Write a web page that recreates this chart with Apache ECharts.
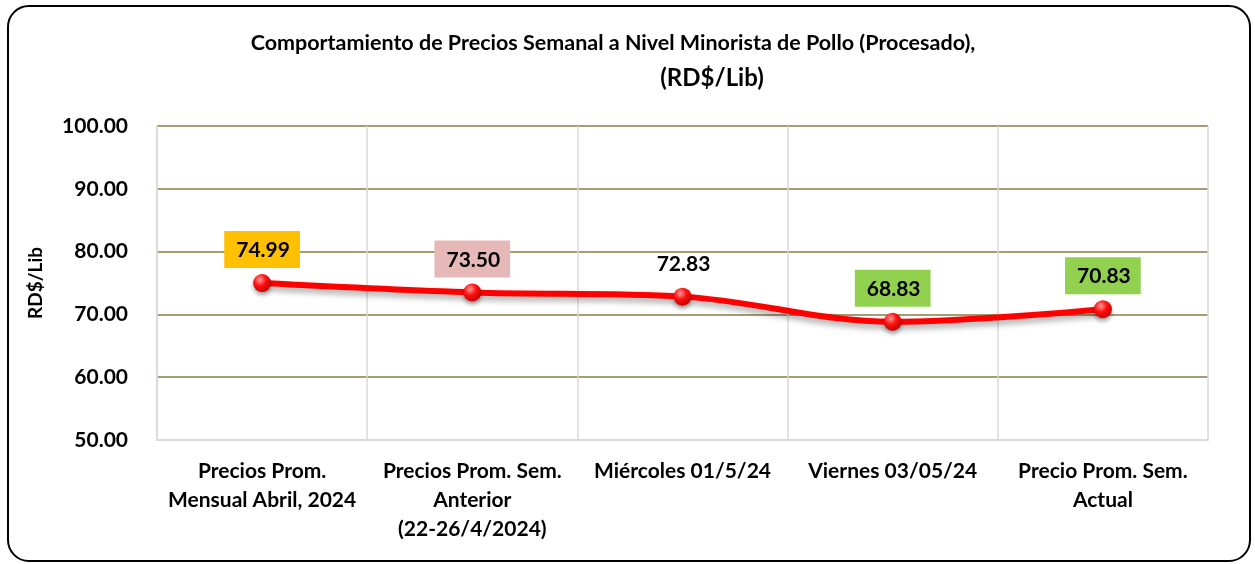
<!DOCTYPE html>
<html>
<head>
<meta charset="utf-8">
<script src="https://cdn.jsdelivr.net/npm/echarts@6/dist/echarts.min.js"></script>
<style>
  body { margin: 0; background: #fff; }
  #wrap { position: relative; width: 1255px; height: 564px; }
  #main { width: 1255px; height: 564px; }
  #frame {
    position: absolute; left: 7px; top: 5px; width: 1240px; height: 553px;
    border: 2px solid #000; border-radius: 22px; pointer-events: none;
  }
</style>
</head>
<body>
<div id="wrap">
  <div id="main"></div>
  <div id="frame"></div>
</div>
<script>
// categorias y valores (RD$/Lib)
const categories = [
  'Precios Prom.\nMensual Abril, 2024',
  'Precios Prom. Sem.\nAnterior\n(22-26/4/2024)',
  'Miércoles 01/5/24',
  'Viernes 03/05/24',
  'Precio Prom. Sem.\nActual'
]
const precios = [74.99, 73.50, 72.83, 68.83, 70.83]
const yTicks = [50, 60, 70, 80, 90, 100]

// fondo de cada etiqueta
const labelBg = ['#FFC000', '#E6B9B8', 'transparent', '#92D050', '#92D050']

const FONT = 'Lato, "Open Sans", sans-serif'
const myChart = echarts.init(document.getElementById('main'))

const option = {
  animation: false,
  textStyle: { fontFamily: FONT },
  title: [
    {
      text: 'Comportamiento de Precios Semanal a Nivel Minorista de Pollo (Procesado),',
      left: 608, top: 27, textAlign: 'center',
      textStyle: { fontFamily: FONT, fontSize: 21.5, fontWeight: 'bold', color: '#000' }
    },
    {
      text: '(RD$/Lib)',
      left: 707, top: 61, textAlign: 'center',
      textStyle: { fontFamily: FONT, fontSize: 24, fontWeight: 'bold', color: '#000' }
    }
  ],
  grid: { left: 157, right: 47, top: 126, bottom: 124 },
  xAxis: {
    type: 'category',
    data: categories,
    boundaryGap: true,
    axisTick: { show: false },
    axisLine: { lineStyle: { color: '#d9d9d9', width: 2 } },
    axisLabel: {
      interval: 0, margin: 17, color: '#000',
      fontFamily: FONT, fontSize: 21, fontWeight: 'bold', lineHeight: 29
    },
    splitLine: { show: true, showMaxLine: true, lineStyle: { color: '#d9d9d9', width: 1.5 } }
  },
  yAxis: {
    type: 'value',
    min: yTicks[0],
    max: yTicks[yTicks.length - 1],
    interval: 10,
    name: 'RD$/Lib',
    nameLocation: 'middle',
    nameGap: 112,
    nameRotate: 90,
    nameTextStyle: { fontFamily: FONT, fontSize: 19, fontWeight: 'bold', color: '#000' },
    axisLine: { show: true, lineStyle: { color: '#d9d9d9', width: 1.5 } },
    axisTick: { show: false },
    axisLabel: {
      margin: 29, color: '#000', fontFamily: FONT, fontSize: 21, fontWeight: 'bold',
      formatter: v => v.toFixed(2)
    },
    splitLine: { show: true, showMinLine: false, lineStyle: { color: '#a59d74', width: 2 } }
  },
  series: [
    {
      type: 'line',
      smooth: 0.35,
      symbol: 'circle',
      symbolSize: 18,
      z: 3,
      lineStyle: {
        color: '#ff0000', width: 6,
        shadowColor: 'rgba(0,0,0,0.35)', shadowBlur: 6, shadowOffsetY: 4
      },
      itemStyle: {
        color: new echarts.graphic.RadialGradient(0.38, 0.32, 0.75, [
          { offset: 0, color: '#ff9a9a' },
          { offset: 0.45, color: '#ff1010' },
          { offset: 1, color: '#b80000' }
        ]),
        shadowColor: 'rgba(0,0,0,0.35)', shadowBlur: 4, shadowOffsetY: 3
      },
      data: precios.map((v, i) => ({
        value: v,
        label: { backgroundColor: labelBg[i] }
      })),
      label: {
        show: true,
        position: 'top',
        distance: 6,
        color: '#000',
        fontFamily: FONT, fontSize: 21, fontWeight: 'bold',
        padding: [9, 10, 7, 12],
        formatter: p => p.value.toFixed(2)
      }
    }
  ]
}

myChart.setOption(option)
</script>
</body>
</html>
